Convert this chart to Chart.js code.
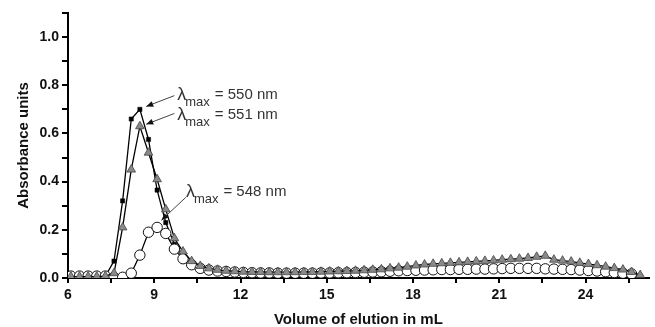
<!DOCTYPE html>
<html>
<head>
<meta charset="utf-8">
<script src="https://cdn.jsdelivr.net/npm/chart.js@4.4.1/dist/chart.umd.min.js"></script>
<style>
html,body{margin:0;padding:0;background:#fff;}
#wrap{width:655px;height:327px;position:relative;}
</style>
</head>
<body>
<div id="wrap"><canvas id="c" width="655" height="327"></canvas></div>
<script>
const volumes = [6.1,6.4,6.7,7.0,7.3,7.6,7.9,8.2,8.5,8.8,9.1,9.4,9.7,10.0,10.3,10.6,10.9,11.2,11.5,11.8,
12.1,12.4,12.7,13.0,13.3,13.6,13.9,14.2,14.5,14.8,15.1,15.4,15.7,16.0,16.3,16.6,16.9,17.2,17.5,17.8,
18.1,18.4,18.7,19.0,19.3,19.6,19.9,20.2,20.5,20.8,21.1,21.4,21.7,22.0,22.3,22.6,22.9,23.2,23.5,23.8,
24.1,24.4,24.7,25.0,25.3,25.6,25.9];

const abs550 = [0.005,0.005,0.005,0.005,0.008,0.07,0.32,0.66,0.70,0.575,0.365,0.23,0.14,0.085,0.055,0.04,0.032,0.027,0.024,0.022,
0.02,0.019,0.018,0.018,0.018,0.018,0.018,0.018,0.018,0.019,0.019,0.02,0.02,0.021,0.022,0.023,0.024,0.026,0.028,0.03,
0.031,0.032,0.033,0.035,0.036,0.037,0.038,0.04,0.041,0.042,0.043,0.044,0.045,0.045,0.046,0.042,0.038,0.035,0.032,0.029,
0.026,0.023,0.02,0.017,0.014,0.01,0.006];

const abs551 = [0.006,0.006,0.006,0.006,0.008,0.02,0.21,0.45,0.63,0.52,0.41,0.285,0.165,0.11,0.07,0.05,0.04,0.034,0.03,0.028,
0.026,0.025,0.025,0.024,0.024,0.024,0.024,0.025,0.025,0.026,0.027,0.028,0.029,0.03,0.032,0.034,0.036,0.04,0.043,0.047,
0.052,0.056,0.059,0.061,0.063,0.065,0.067,0.069,0.071,0.073,0.076,0.078,0.08,0.083,0.088,0.092,0.076,0.072,0.068,0.063,
0.058,0.053,0.047,0.041,0.035,0.025,0.012];

const abs548 = [0.008,0.008,0.008,0.008,0.008,0.003,0.003,0.02,0.095,0.19,0.21,0.185,0.12,0.08,0.055,0.04,0.033,0.029,0.027,0.025,
0.023,0.022,0.021,0.021,0.02,0.02,0.02,0.02,0.02,0.021,0.021,0.022,0.022,0.023,0.024,0.025,0.026,0.028,0.03,0.031,
0.032,0.033,0.034,0.035,0.035,0.036,0.036,0.037,0.037,0.038,0.039,0.04,0.04,0.04,0.04,0.038,0.037,0.036,0.035,0.033,
0.031,0.029,0.026,0.023,0.02,0.017,null];

const xTicks = [6,9,12,15,18,21,24];
const yTickLabels = ['0.0','0.2','0.4','0.6','0.8','1.0'];

const annotations = [
  {nm:'550', tip:[8.72,0.712], tail:[9.7,0.757], text:[9.8,0.762]},
  {nm:'551', tip:[8.72,0.638], tail:[9.7,0.683], text:[9.8,0.68]},
  {nm:'548', tip:[9.25,0.24], tail:[10.1,0.335], text:[10.1,0.36]}
];

function pts(arr){ return volumes.map((v,i)=>({x:v,y:arr[i]})); }

const annPlugin = {
  id:'ann',
  afterDatasetsDraw(chart){
    const ctx = chart.ctx, xs = chart.scales.x, ys = chart.scales.y;
    ctx.save();
    annotations.forEach(a=>{
      const tx = xs.getPixelForValue(a.tip[0]), ty = ys.getPixelForValue(a.tip[1]);
      const sx = xs.getPixelForValue(a.tail[0]), sy = ys.getPixelForValue(a.tail[1]);
      ctx.strokeStyle = '#444'; ctx.fillStyle = '#111'; ctx.lineWidth = 1;
      ctx.beginPath(); ctx.moveTo(sx,sy); ctx.lineTo(tx,ty); ctx.stroke();
      const ang = Math.atan2(ty-sy, tx-sx), L = 7, W = 3;
      ctx.beginPath();
      ctx.moveTo(tx,ty);
      ctx.lineTo(tx - L*Math.cos(ang) + W*Math.sin(ang), ty - L*Math.sin(ang) - W*Math.cos(ang));
      ctx.lineTo(tx - L*Math.cos(ang) - W*Math.sin(ang), ty - L*Math.sin(ang) + W*Math.cos(ang));
      ctx.closePath(); ctx.fill();
      const px = xs.getPixelForValue(a.text[0]), py = ys.getPixelForValue(a.text[1]);
      ctx.fillStyle = '#333';
      ctx.textBaseline = 'alphabetic'; ctx.textAlign = 'left';
      ctx.font = '18px "Liberation Sans", Arial, sans-serif';
      ctx.fillText('λ', px, py + 6);
      const lw = ctx.measureText('λ').width;
      ctx.font = '13px "Liberation Sans", Arial, sans-serif';
      ctx.fillText('max', px + lw - 1, py + 12);
      const mw = ctx.measureText('max').width;
      ctx.font = '15px "Liberation Sans", Arial, sans-serif';
      ctx.fillText('= ' + a.nm + ' nm', px + lw + mw + 4, py + 5);
    });
    ctx.restore();
  }
};

new Chart(document.getElementById('c'), {
  type:'line',
  data:{
    datasets:[
      {label:'550', data:pts(abs550), borderColor:'#000', borderWidth:1.3, pointStyle:'rect',
       pointRadius:3, pointBackgroundColor:'#000', pointBorderColor:'#000', pointBorderWidth:0.5, order:3},
      {label:'548', data:pts(abs548), borderColor:'#000', borderWidth:1.3, pointStyle:'circle',
       pointRadius:5.2, pointBackgroundColor:'#fff', pointBorderColor:'#111', pointBorderWidth:1, order:2},
      {label:'551', data:pts(abs551), borderColor:'#000', borderWidth:1.3, pointStyle:'triangle',
       pointRadius:5, pointBackgroundColor:'#8a8a8a', pointBorderColor:'#444', pointBorderWidth:0.8, order:1}
    ]
  },
  options:{
    responsive:false, animation:false, spanGaps:false,
    layout:{padding:{top:13,right:5,left:0,bottom:0}},
    plugins:{legend:{display:false}, tooltip:{enabled:false}},
    scales:{
      x:{type:'linear', min:6, max:26.2,
        afterFit(s){ s.height = 49; },
        afterBuildTicks(s){ const t=[]; for(let v=6; v<=26.2; v+=1.5) t.push({value:v}); s.ticks=t; },
        grid:{drawOnChartArea:false, drawTicks:true, tickLength:5, color:'#000', lineWidth:2},
        border:{display:true, color:'#000', width:2},
        ticks:{color:'#111', padding:4, maxRotation:0, autoSkip:false,
          font:{family:'"Liberation Sans", Arial, sans-serif', size:14, weight:'bold'},
          callback(v){ const r = Math.round(v*10)/10; return xTicks.includes(r) ? String(r) : ''; }},
        title:{display:true, text:'Volume of elution in mL', color:'#111', padding:{top:3, bottom:-2},
          font:{family:'"Liberation Sans", Arial, sans-serif', size:15, weight:'bold'}}
      },
      y:{min:0, max:1.1,
        afterFit(s){ s.width = 68; },
        afterBuildTicks(s){ const t=[]; for(let i=0;i<=11;i++) t.push({value:i/10}); s.ticks=t; },
        grid:{drawOnChartArea:false, drawTicks:true, tickLength:6, color:'#000', lineWidth:2},
        border:{display:true, color:'#000', width:2},
        ticks:{color:'#111', padding:3, autoSkip:false,
          font:{family:'"Liberation Sans", Arial, sans-serif', size:14, weight:'bold'},
          callback(v){ const s = (Math.round(v*10)/10).toFixed(1); return yTickLabels.includes(s) ? s : ''; }},
        title:{display:true, text:'Absorbance units', color:'#111', padding:{top:15, bottom:0},
          font:{family:'"Liberation Sans", Arial, sans-serif', size:15, weight:'bold'}}
      }
    }
  },
  plugins:[annPlugin]
});
</script>
</body>
</html>
